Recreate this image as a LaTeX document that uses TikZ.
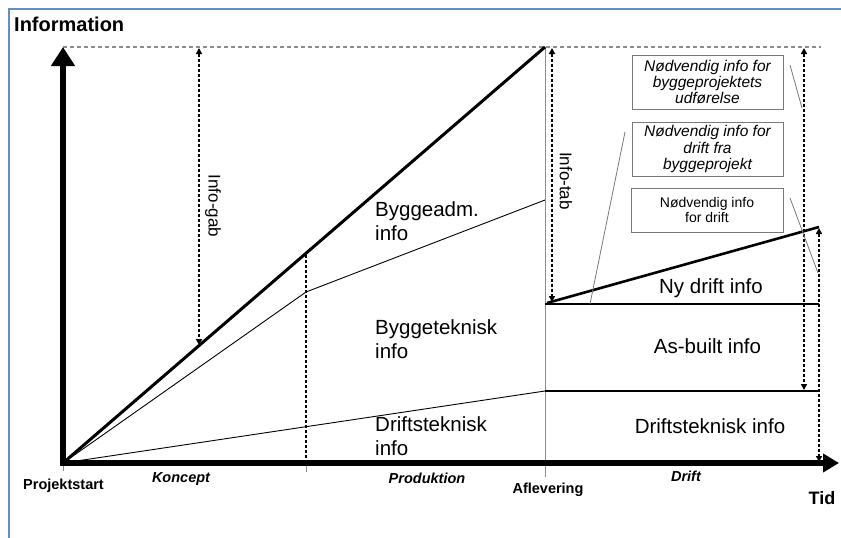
\documentclass[tikz,border=0pt]{standalone}
\usepackage{fontspec}
\setmainfont{Liberation Sans}
\usetikzlibrary{arrows.meta}

\definecolor{framebl}{RGB}{98,141,199}
\definecolor{guide}{RGB}{140,140,140}
\definecolor{boxline}{RGB}{120,120,120}

\begin{document}
\begin{tikzpicture}[x=1pt,y=-1pt,
  frame/.style={draw=framebl,line width=2pt},
  axes/.style={line width=6pt,line join=miter,
    {Triangle[length=19pt,width=23pt]}-{Triangle[length=16pt,width=18pt]}},
  dotarrow/.style={line width=1.6pt,dash pattern=on 3pt off 2pt,
    {Triangle[length=6pt,width=6pt]}-{Triangle[length=6pt,width=6pt]}},
  dotline/.style={line width=1.6pt,dash pattern=on 3pt off 2pt},
  topline/.style={draw=guide,line width=1.2pt,dash pattern=on 4pt off 3pt},
  thin/.style={line width=0.9pt},
  medium/.style={line width=1.8pt},
  heavy/.style={line width=3pt},
  guideline/.style={draw=guide,line width=0.9pt},
  pointer/.style={draw=boxline,line width=0.8pt},
  notebox/.style={draw=boxline,line width=1pt,align=center,inner sep=0pt},
  area/.style={font=\fontsize{20.5}{24}\selectfont,align=left},
  phase/.style={font=\fontsize{14.5}{16}\selectfont\bfseries\itshape},
  milestone/.style={font=\fontsize{14.5}{16}\selectfont\bfseries},
  vlabel/.style={font=\fontsize{17}{20}\selectfont,rotate=-90}]

\useasboundingbox (0,0) rectangle (841,538);
\draw[frame] (9,538) -- (9,9) -- (841,9);

% key points of the chart
\coordinate (O) at (63,463);
\coordinate (ytip) at (63,47);
\coordinate (xtip) at (839,463);
\coordinate (peak) at (545,47);
\coordinate (topend) at (821,47);
\coordinate (hand) at (545,463);
\coordinate (handtick) at (545,477);
\coordinate (kend) at (306,463);
\coordinate (ktick) at (306,472);
\coordinate (stick) at (63,471);
\coordinate (kpeak) at (306,253);
\coordinate (bend) at (306,292);
\coordinate (admend) at (545,200);
\coordinate (dtend) at (545,391);
\coordinate (dtright) at (819,391);
\coordinate (ny0) at (545,304);
\coordinate (nyright) at (819,304);
\coordinate (nystart) at (547,303);
\coordinate (nytop) at (819,227);

% guide lines and ticks
\draw[topline] (ytip) -- (topend);
\draw[guideline] (peak) -- (handtick);
\draw[guideline] (O) -- (stick);
\draw[guideline] (kend) -- (ktick);

% information curves
\draw[thin] (O) -- (bend) -- (admend);
\draw[thin] (O) -- (dtend);
\draw[medium] (dtend) -- (dtright);
\draw[medium] (ny0) -- (nyright);
\draw[heavy] (O) -- (peak);
\draw[line width=2.6pt] (nystart) -- (nytop);
\draw[dotline] (kend) -- (kpeak);

% dimension arrows
\coordinate (gabtop) at (199,48);
\coordinate (gabbot) at (199,345);
\coordinate (tabtop) at (552,48);
\coordinate (tabbot) at (552,302);
\coordinate (r1top) at (804,48);
\coordinate (r1bot) at (804,390);
\coordinate (r2top) at (819,228);
\coordinate (r2bot) at (819,462);
\draw[dotarrow] (gabtop) -- (gabbot);
\draw[dotarrow] (tabtop) -- (tabbot);
\draw[dotarrow] (r1top) -- (r1bot);
\draw[dotarrow] (r2top) -- (r2bot);

\node[vlabel] (gab) at (213,206) {Info-gab};
\node[vlabel] (tab) at (566,181) {Info-tab};

% axes
\draw[axes] (ytip) -- (O) -- (xtip);

% note boxes and their pointers
\node[notebox,minimum width=151pt,minimum height=54pt,
  font=\fontsize{15.5}{16}\selectfont\itshape] (b1) at (707.5,82)
  {Nødvendig info for\\byggeprojektets\\udførelse};
\node[notebox,minimum width=151pt,minimum height=54pt,
  font=\fontsize{15.5}{16.5}\selectfont\itshape] (b2) at (707.5,149)
  {Nødvendig info for\\drift fra\\byggeprojekt};
\node[notebox,minimum width=152pt,minimum height=44pt,
  font=\fontsize{14}{15}\selectfont] (b3) at (707,210)
  {Nødvendig info\\for drift};

\coordinate (p1a) at (790,65);
\coordinate (p1b) at (802,108);
\coordinate (p2a) at (625,132);
\coordinate (p2b) at (590,304);
\coordinate (p3a) at (790,198);
\coordinate (p3b) at (818,273);
\draw[pointer] (p1a) -- (p1b);
\draw[pointer] (p2a) -- (p2b);
\draw[pointer] (p3a) -- (p3b);

% area labels (base anchor sits on the last line)
\node[area,anchor=base west,inner sep=0pt] (adm) at (375,240) {Byggeadm.\\info};
\node[area,anchor=base west,inner sep=0pt] (tek) at (375,358) {Byggeteknisk\\info};
\node[area,anchor=base west,inner sep=0pt] (drt) at (375,455) {Driftsteknisk\\info};
\node[area,anchor=base,inner sep=0pt] (ny) at (711,293) {Ny drift info};
\node[area,anchor=base,inner sep=0pt] (asb) at (707.5,353) {As-built info};
\node[area,anchor=base,inner sep=0pt] (drt2) at (710,433) {Driftsteknisk info};

% axis labels
\node[font=\fontsize{20}{22}\selectfont\bfseries,anchor=base west,inner sep=0pt]
  (info) at (14,31) {Information};
\node[font=\fontsize{18}{20}\selectfont\bfseries,anchor=base,inner sep=0pt]
  (tid) at (822,504) {Tid};
\node[phase,anchor=base,inner sep=0pt] (konc) at (181,482) {Koncept};
\node[phase,anchor=base,inner sep=0pt] (prod) at (427,483) {Produktion};
\node[phase,anchor=base,inner sep=0pt] (drift) at (686,481) {Drift};
\node[milestone,anchor=base,inner sep=0pt] (start) at (63.5,489) {Projektstart};
\node[milestone,anchor=base,inner sep=0pt] (afl) at (548,493) {Aflevering};

\end{tikzpicture}
\end{document}
